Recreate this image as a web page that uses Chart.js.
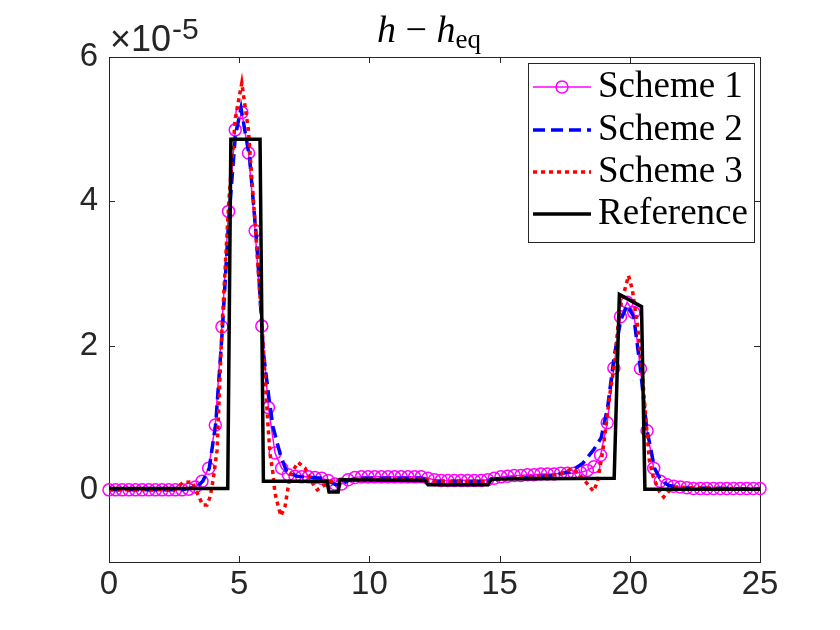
<!DOCTYPE html>
<html>
<head>
<meta charset="utf-8">
<script src="https://cdn.jsdelivr.net/npm/chart.js@4.4.1/dist/chart.umd.min.js"></script>
<style>
  html, body { margin: 0; padding: 0; background: #fff; }
  canvas { display: block; }
</style>
</head>
<body>
<canvas id="hChart" width="840" height="630"></canvas>
<script>
// values in units of 1e-5
const xTicks = [0, 5, 10, 15, 20, 25];
const yTicks = [0, 2, 4, 6];
const seriesNames = ['Scheme 1', 'Scheme 2', 'Scheme 3', 'Reference'];

// scheme 1 is sampled on 99 equally spaced points over [0, 25]
const xGrid = Array.from({ length: 99 }, (_, i) => i * 25 / 98);
const scheme1 = [
  0, 0, 0, 0, 0, 0, 0, 0, 0, 0, 0, 0,
  0.01, 0.04, 0.12, 0.30, 0.90, 2.26, 3.86, 4.99, 5.23, 4.67, 3.59, 2.27, 1.14, 0.51,
  0.30, 0.21, 0.19, 0.18, 0.18, 0.17, 0.16, 0.13, 0.08, 0.08, 0.14, 0.17,
  0.18, 0.18, 0.18, 0.18, 0.18, 0.18, 0.18, 0.18, 0.18, 0.18,
  0.16, 0.14,
  0.13, 0.13, 0.13, 0.13, 0.13, 0.13, 0.13,
  0.14, 0.16, 0.18, 0.19, 0.20, 0.20, 0.21, 0.21, 0.22, 0.22, 0.22, 0.23, 0.23, 0.23,
  0.24, 0.27, 0.32, 0.48, 0.93, 1.69, 2.40, 2.60, 2.46, 1.68, 0.82, 0.30, 0.12, 0.07,
  0.05, 0.04, 0.03,
  0.02, 0.02, 0.02, 0.02, 0.02, 0.02, 0.02, 0.02, 0.02, 0.02, 0.02
];

const scheme2X = [0, 2.8, 3.1, 3.4, 3.6, 3.85, 4.1, 4.35, 4.6, 4.85, 5.07, 5.4, 5.68, 5.93, 6.15, 6.3,
  6.57, 6.8, 7.2, 8.2, 8.45, 8.7, 8.95, 9.2, 9.5, 12.0, 12.4, 14.4, 14.8, 16, 17, 17.7,
  18.2, 18.6, 18.9, 19.15, 19.4, 19.65, 19.9, 20.15, 20.4, 20.65, 20.95, 21.2, 21.5, 22, 25];
const scheme2Y = [0, 0, 0.02, 0.05, 0.12, 0.30, 0.92, 2.2, 3.75, 4.9, 5.29, 4.6, 3.4, 1.9, 1.25, 0.87,
  0.5, 0.27, 0.19, 0.16, 0.12, 0.07, 0.08, 0.13, 0.16, 0.16, 0.12, 0.12, 0.15, 0.17, 0.2, 0.25,
  0.37, 0.55, 0.72, 1.15, 1.85, 2.35, 2.56, 2.4, 1.7, 0.85, 0.3, 0.13, 0.06, 0.03, 0.01];

const scheme3X = [0, 2.5, 2.84, 3.19, 3.42, 3.6, 3.76, 3.88, 4.0, 4.15, 4.34, 4.6, 4.85, 5.1, 5.35,
  5.6, 5.87, 6.1, 6.18, 6.3, 6.37, 6.5, 6.6, 6.76, 6.85, 6.95, 7.26, 7.53, 7.8, 8.0, 8.2, 8.5,
  9.0, 12.0, 12.5, 14.5, 15.0, 17.0, 17.5, 17.8, 18.1, 18.4, 18.6, 18.75, 18.97, 19.24, 19.43,
  19.6, 19.95, 20.1, 20.3, 20.47, 20.62, 20.75, 20.9, 21.16, 21.3, 21.55, 21.8, 22.3, 25];
const scheme3Y = [0, 0, 0.1, 0.11, -0.07, -0.21, -0.21, -0.1, 0.14, 0.55, 2.26, 4.0, 5.15, 5.64, 5.0,
  3.75, 2.3, 0.93, 0.51, 0.22, -0.04, -0.23, -0.36, -0.23, -0.03, 0.2, 0.38, 0.3, 0.1, 0.0, 0.05, 0.12,
  0.14, 0.15, 0.12, 0.12, 0.15, 0.2, 0.24, 0.3, 0.2, 0.07, -0.02, 0.1, 0.55, 1.34, 1.8,
  2.49, 2.97, 2.77, 2.26, 1.66, 0.97, 0.41, 0.18, -0.04, -0.1, 0.0, 0.04, 0.03, 0.01];

const refX = [0, 4.56, 4.68, 5.8, 5.93, 8.37, 8.45, 8.8, 8.87, 12.15, 12.25, 14.55, 14.68, 19.4, 19.6, 20.45, 20.58, 25];
const refY = [0.02, 0.02, 4.86, 4.86, 0.12, 0.12, -0.03, -0.03, 0.14, 0.13, 0.07, 0.07, 0.15, 0.16, 2.71, 2.54, 0.01, 0.01];

const colors = ['#ff00ff', '#0000ff', '#ff0000', '#000000'];
const axisColor = '#262626';

function zip(xs, ys) {
    return xs.map((x, i) => ({ x: x, y: ys[i] }));
}

const frame = {
    id: 'frame',
    beforeDatasetsDraw(chart) {
        const ctx = chart.ctx;
        const a = chart.chartArea;
        const xs = chart.scales.x;
        const ys = chart.scales.y;
        ctx.save();
        ctx.strokeStyle = axisColor;
        ctx.lineWidth = 1;
        ctx.strokeRect(Math.round(a.left) + 0.5, Math.round(a.top) + 0.5, Math.round(a.right - a.left), Math.round(a.bottom - a.top));
        ctx.beginPath();
        xTicks.forEach(v => {
            const p = Math.round(xs.getPixelForValue(v)) + 0.5;
            ctx.moveTo(p, a.bottom); ctx.lineTo(p, a.bottom - 6);
            ctx.moveTo(p, a.top); ctx.lineTo(p, a.top + 6);
        });
        yTicks.forEach(v => {
            const p = Math.round(ys.getPixelForValue(v)) + 0.5;
            ctx.moveTo(a.left, p); ctx.lineTo(a.left + 6, p);
            ctx.moveTo(a.right, p); ctx.lineTo(a.right - 6, p);
        });
        ctx.stroke();
        ctx.restore();
    },
    afterDraw(chart) {
        const ctx = chart.ctx;
        ctx.save();
        // title h - h_eq
        ctx.fillStyle = '#000';
        ctx.textBaseline = 'alphabetic';
        const parts = [
            { t: 'h', f: 'italic 38px "Liberation Serif"', dy: 0 },
            { t: ' \u2212 ', f: '38px "Liberation Serif"', dy: 0 },
            { t: 'h', f: 'italic 38px "Liberation Serif"', dy: 0 },
            { t: 'eq', f: '27px "Liberation Serif"', dy: 6 }
        ];
        let total = 0;
        parts.forEach(p => { ctx.font = p.f; p.w = ctx.measureText(p.t).width; total += p.w; });
        let x = 429 - total / 2;
        parts.forEach(p => {
            ctx.font = p.f;
            ctx.fillText(p.t, x, 42 + p.dy);
            x += p.w;
        });

        // exponent label
        ctx.fillStyle = axisColor;
        ctx.font = '36px "Liberation Sans"';
        ctx.fillText('\u00d710', 110, 51);
        const w = ctx.measureText('\u00d710').width;
        ctx.font = '30px "Liberation Sans"';
        ctx.fillText('-5', 110 + w + 1, 39);

        // legend
        const lx = 528, ly = 63, lw = 226, lh = 179;
        ctx.fillStyle = '#fff';
        ctx.fillRect(lx, ly, lw, lh);
        ctx.strokeStyle = axisColor;
        ctx.lineWidth = 1;
        ctx.strokeRect(lx + 0.5, ly + 0.5, lw, lh);
        const rows = [87, 130, 172, 214];
        chart.data.datasets.forEach((ds, i) => {
            const y = rows[i];
            ctx.save();
            ctx.strokeStyle = ds.borderColor;
            ctx.lineWidth = ds.borderWidth;
            ctx.setLineDash(ds.borderDash || []);
            ctx.beginPath();
            ctx.moveTo(533, y);
            ctx.lineTo(591, y);
            ctx.stroke();
            if (ds.pointRadius > 0) {
                ctx.setLineDash([]);
                ctx.lineWidth = ds.pointBorderWidth;
                ctx.beginPath();
                ctx.arc(562, y, ds.pointRadius, 0, Math.PI * 2);
                ctx.stroke();
            }
            ctx.restore();
            ctx.fillStyle = '#000';
            ctx.font = '37px "Liberation Serif"';
            ctx.textBaseline = 'alphabetic';
            ctx.fillText(ds.label, 598, y + 10);
        });
        ctx.restore();
    }
};

new Chart(document.getElementById('hChart'), {
    type: 'line',
    data: {
        datasets: [
            {
                label: seriesNames[0],
                data: zip(xGrid, scheme1),
                borderColor: colors[0],
                borderWidth: 1.5,
                pointRadius: 6,
                pointBorderWidth: 1.5,
                pointBorderColor: colors[0],
                pointBackgroundColor: 'rgba(0,0,0,0)',
                order: 3,
                clip: false
            },
            {
                label: seriesNames[1],
                data: zip(scheme2X, scheme2Y),
                borderColor: colors[1],
                borderWidth: 3.5,
                borderDash: [12, 6],
                pointRadius: 0,
                order: 2
            },
            {
                label: seriesNames[2],
                data: zip(scheme3X, scheme3Y),
                borderColor: colors[2],
                borderWidth: 3.5,
                borderDash: [4, 4],
                pointRadius: 0,
                order: 1
            },
            {
                label: seriesNames[3],
                data: zip(refX, refY),
                borderColor: colors[3],
                borderWidth: 3.5,
                pointRadius: 0,
                order: 0
            }
        ]
    },
    options: {
        responsive: false,
        animation: false,
        events: [],
        layout: { padding: { top: 57, right: 80, left: 0, bottom: 0 } },
        plugins: {
            legend: { display: false },
            tooltip: { enabled: false },
            title: { display: false }
        },
        scales: {
            x: {
                type: 'linear',
                min: 0,
                max: 25,
                grid: { display: false, drawTicks: false },
                border: { display: false },
                afterBuildTicks: s => { s.ticks = xTicks.map(v => ({ value: v })); },
                afterFit: s => { s.height = 68; },
                ticks: {
                    color: axisColor,
                    padding: 6,
                    maxRotation: 0,
                    font: { family: 'Liberation Sans', size: 33, lineHeight: 1 }
                }
            },
            y: {
                min: -1,
                max: 6,
                grid: { display: false, drawTicks: false },
                border: { display: false },
                afterBuildTicks: s => { s.ticks = yTicks.map(v => ({ value: v })); },
                afterFit: s => { s.width = 109; },
                ticks: {
                    color: axisColor,
                    padding: 11,
                    font: { family: 'Liberation Sans', size: 33, lineHeight: 1 }
                }
            }
        }
    },
    plugins: [frame]
});
</script>
</body>
</html>
